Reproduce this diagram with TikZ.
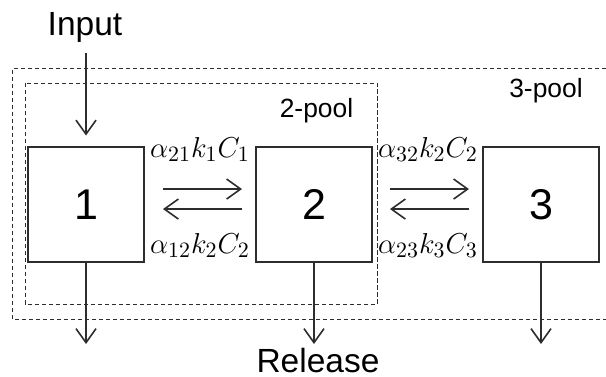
\documentclass[tikz,border=0pt]{standalone}
\usepackage[no-math]{fontspec}
\setmainfont{Liberation Sans}
\usepackage{amsmath,amssymb}
\usepackage{xcolor}
\usepackage{tikz}
\usetikzlibrary{arrows.meta,positioning,calc}
\definecolor{inkgray}{RGB}{45,45,45}

\begin{document}
\begin{tikzpicture}[x=0.5pt, y=-0.5pt,
    poolbox/.style={rectangle, draw=inkgray, line width=1pt, minimum width=58pt, minimum height=57.75pt, inner sep=0pt, font=\fontsize{21.5}{24}\selectfont},
    flow/.style={-{Straight Barb[length=7pt,width=10pt]}, line width=0.8pt, draw=inkgray},
    zone/.style={draw=inkgray, line width=0.5pt, dash pattern=on 2.2pt off 1.3pt},
    rate/.style={font=\fontsize{15}{18}\selectfont, inner sep=0pt, anchor=base},
    tag/.style={font=\fontsize{16.75}{20}\selectfont, inner sep=0pt},
    zonetag/.style={font=\fontsize{13.2}{16}\selectfont, inner sep=0pt, anchor=base}
]
    \useasboundingbox (0,0) rectangle (606,376);

    % pool regions
    \draw[zone] (25,83) rectangle (377.5,304);
    \draw[zone] (606,68) -| (12.5,319) -- (606,319);
    \node[zonetag] (twopool) at (316.5,117) {2-pool};
    \node[zonetag] (threepool) at (546,97) {3-pool};

    \node[poolbox] (b1) at (86,204.25) {1};
    \node[poolbox] (b2) at (314,204.25) {2};
    \node[poolbox] (b3) at (541,204.25) {3};

    \node[tag] (input) at (85,27) {Input};
    \node[tag, anchor=base] (release) at (318,372) {Release};

    \draw[flow, shorten <=5.5pt, shorten >=5pt] (b1.north |- input.south) -- (b1.north);
    \foreach \i/\x in {1/86,2/314,3/541} {
        \coordinate (out\i) at (\x,344);
        \draw[flow] (b\i) -- (out\i);
    }

    % exchange between pools
    \draw[flow, shorten <=9pt, shorten >=6.5pt] ([yshift=7.6pt]b1.east) -- ([yshift=7.6pt]b2.west);
    \draw[flow, shorten <=6.5pt, shorten >=9pt] ([yshift=-2.4pt]b2.west) -- ([yshift=-2.4pt]b1.east);
    \draw[flow, shorten <=8.5pt, shorten >=6.5pt] ([yshift=7.6pt]b2.east) -- ([yshift=7.6pt]b3.west);
    \draw[flow, shorten <=6.5pt, shorten >=8.5pt] ([yshift=-2.4pt]b3.west) -- ([yshift=-2.4pt]b2.east);

    \node[rate] (r21) at (200,157) {$\alpha_{21}k_1C_1$};
    \node[rate] (r12) at (200,253) {$\alpha_{12}k_2C_2$};
    \node[rate] (r32) at (428,157) {$\alpha_{32}k_2C_2$};
    \node[rate] (r23) at (428,253) {$\alpha_{23}k_3C_3$};
\end{tikzpicture}
\end{document}
